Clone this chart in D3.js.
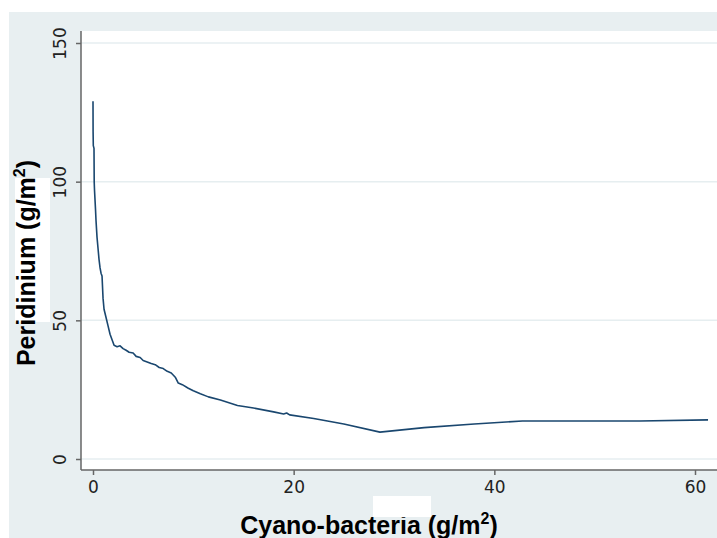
<!DOCTYPE html>
<html>
<head>
<meta charset="utf-8">
<script src="https://cdnjs.cloudflare.com/ajax/libs/d3/7.8.5/d3.min.js"></script>
<style>
  body { margin: 0; background: #fff; }
  svg { display: block; }
  .tick text { font-family: "DejaVu Sans", sans-serif; font-size: 17px; fill: #222; }
  .title { font-family: "Liberation Sans", Arial, sans-serif; font-weight: bold; font-size: 25px; fill: #000; }
</style>
</head>
<body>
<div id="chart"></div>
<script>
// values
const cyano = [0, 0.01, 0.03, 0.1, 0.12, 0.15, 0.25, 0.3, 0.4, 0.5, 0.6, 0.7, 0.8, 0.9, 0.95,
  1.0, 1.1, 1.3, 1.5, 1.7, 1.9, 2.1, 2.4, 2.7, 3.0, 3.3, 3.6, 4.0, 4.3, 4.7, 5.0, 5.4, 5.8,
  6.2, 6.6, 7.0, 7.4, 7.8, 8.2, 8.5, 8.9, 9.5, 10.0, 10.7, 11.5, 12.7, 14.4, 16, 18, 19,
  19.3, 19.6, 22, 25, 28.6, 33, 38, 42.8, 54.5, 61.3];
const peridinium = [129, 118, 113, 112, 100, 97, 90, 86, 80, 76, 72, 69, 67, 66, 62,
  58, 54, 51, 48, 45, 43, 41, 40.5, 40.8, 39.8, 39.2, 38.5, 38.2, 37.0, 36.6, 35.5, 35.0, 34.4,
  34.0, 33.0, 32.6, 31.6, 31.0, 29.5, 27.4, 26.8, 25.5, 24.6, 23.5, 22.4, 21.3, 19.3, 18.4, 17.0, 16.2,
  16.6, 15.9, 14.6, 12.6, 9.7, 11.3, 12.6, 13.7, 13.7, 14.1];
const xTicks = [0, 20, 40, 60];
const yTicks = [0, 50, 100, 150];

const width = 717, height = 538;
const plotLeft = 81, plotTop = 31, plotBottom = 470;

const svg = d3.select("#chart").append("svg")
    .attr("width", width).attr("height", height);

// graph region + plot region
svg.append("rect").attr("x", 9).attr("y", 12)
    .attr("width", width - 9).attr("height", height - 12).attr("fill", "#e8eff1");
svg.append("rect").attr("x", plotLeft).attr("y", plotTop)
    .attr("width", width - plotLeft).attr("height", plotBottom - plotTop).attr("fill", "#fff");

// white patch behind the y title (in the original image)
svg.append("rect").attr("x", 15).attr("y", 178).attr("width", 35).attr("height", 144)
    .attr("fill", "#fff");

const x = d3.scaleLinear().domain([0, 60]).range([93, 695]);
const y = d3.scaleLinear().domain([0, 150]).range([459, 43]);

// gridlines
svg.append("g").selectAll("line").data(yTicks).join("line")
    .attr("x1", plotLeft).attr("x2", width)
    .attr("y1", d => y(d)).attr("y2", d => y(d))
    .attr("stroke", "#e6eef0").attr("stroke-width", 1.5);

// the curve
const data = cyano.map((c, i) => [c, peridinium[i]]);
svg.append("path").datum(data)
    .attr("d", d3.line().x(d => x(d[0])).y(d => y(d[1])))
    .attr("fill", "none").attr("stroke", "#1a476f").attr("stroke-width", 1.6)
    .attr("stroke-linejoin", "round");

// axes
const xAxis = svg.append("g").attr("transform", `translate(0,${plotBottom})`)
    .call(d3.axisBottom(x).tickValues(xTicks).tickSize(5).tickPadding(6).tickFormat(d3.format("d")));
xAxis.select(".domain").attr("d", `M${plotLeft},0H${width}`);

const yAxis = svg.append("g").attr("transform", `translate(${plotLeft},0)`)
    .call(d3.axisLeft(y).tickValues(yTicks).tickSize(5).tickFormat(d3.format("d")));
yAxis.select(".domain").attr("d", `M0,${plotTop}V${plotBottom}`);
yAxis.selectAll(".tick text")
    .attr("transform", "rotate(-90)")
    .attr("x", 0).attr("y", -15).attr("dy", 0)
    .attr("text-anchor", "middle");

svg.selectAll(".domain, .tick line").attr("stroke", "#666").attr("stroke-width", 1.5);

// titles
svg.append("text").attr("class", "title")
    .attr("x", 369).attr("y", 534).attr("text-anchor", "middle")
    .call(t => {
      t.append("tspan").text("Cyano-bacteria (g/m");
      t.append("tspan").attr("dy", -10).attr("font-size", 16).text("2");
      t.append("tspan").attr("dy", 10).text(")");
    });

svg.append("text").attr("class", "title")
    .attr("transform", "translate(35,263) rotate(-90)").attr("text-anchor", "middle")
    .call(t => {
      t.append("tspan").text("Peridinium (g/m");
      t.append("tspan").attr("dy", -10).attr("font-size", 16).text("2");
      t.append("tspan").attr("dy", 10).text(")");
    });

// white patch over the x title (in the original image)
svg.append("rect").attr("x", 373).attr("y", 496).attr("width", 58).attr("height", 21)
    .attr("fill", "#fff");
</script>
</body>
</html>
